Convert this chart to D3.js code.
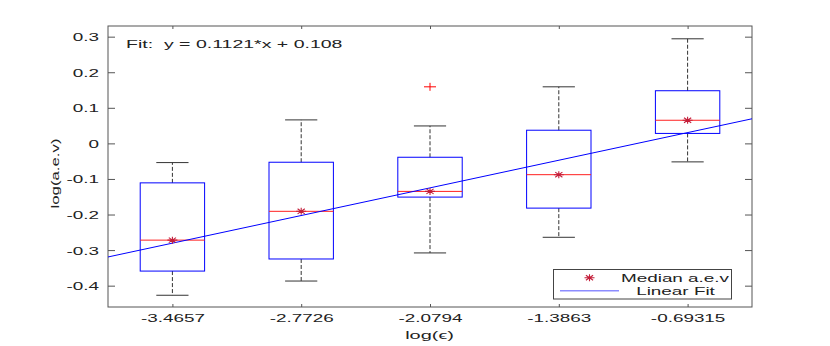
<!DOCTYPE html>
<html><head><meta charset="utf-8">
<script src="https://cdn.jsdelivr.net/npm/d3@7"></script>
<style>body{margin:0;background:#fff}svg{display:block}</style>
</head><body>
<script>
// ---- data ----
const positions = [-3.4657, -2.7726, -2.0794, -1.3863, -0.69315];
const xTickLabels = ["-3.4657", "-2.7726", "-2.0794", "-1.3863", "-0.69315"];
const whiskerHigh = [-0.054, 0.066, 0.049, 0.159, 0.294];
const q3 = [-0.111, -0.053, -0.039, 0.037, 0.148];
const medians = [-0.272, -0.191, -0.135, -0.088, 0.065];
const q1 = [-0.359, -0.325, -0.151, -0.182, 0.028];
const whiskerLow = [-0.427, -0.387, -0.308, -0.264, -0.052];
const outlierX = [-2.0794];
const outlierY = [0.159];
const yTicks = [-0.4, -0.3, -0.2, -0.1, 0, 0.1, 0.2, 0.3];
const fitSlope = 0.1121, fitIntercept = 0.108;
const xDomain = [-3.8123, -0.3466];
const yDomain = [-0.46, 0.33];

// ---- layout ----
const W = 830, H = 346;
const L = 108, T = 26, R = 752, B = 307;
const SX = 1.8, FS = 10.5, FONT = "'Liberation Sans', Arial, Helvetica, sans-serif";
const svg = d3.select("body").append("svg").attr("width", W).attr("height", H);
const x = d3.scaleLinear().domain(xDomain).range([L, R]);
const y = d3.scaleLinear().domain(yDomain).range([B, T]);
const step = positions[1] - positions[0];
const boxHalf = x(positions[0] + step * 0.25) - x(positions[0]);
const capHalf = boxHalf / 2;

function stretchText(sel) {
  sel.each(function () {
    const t = d3.select(this);
    const tx = +t.attr("x") || 0;
    t.attr("x", 0).attr("transform", `translate(${tx},0) scale(${SX},1)`);
  });
}
function label(g, px, py, s, anchor, sx) {
  return g.append("text").attr("transform", `translate(${px},${py}) scale(${sx || SX},1)`)
    .attr("text-anchor", anchor).attr("font-family", FONT).attr("font-size", FS)
    .attr("fill", "#222").attr("xml:space", "preserve").text(s);
}

// ---- axes ----
const axColor = "#555";
const gB = svg.append("g").attr("transform", `translate(0,${B})`)
  .call(d3.axisBottom(x).tickValues(positions).tickFormat((d, i) => xTickLabels[i]).tickSizeInner(-3).tickSizeOuter(0).tickPadding(8));
const gL = svg.append("g").attr("transform", `translate(${L},0)`)
  .call(d3.axisLeft(y).tickValues(yTicks).tickFormat(d => d === 0 ? "0" : d3.format(".1f")(d).replace("−", "-")).tickSizeInner(-7).tickSizeOuter(0).tickPadding(9));
const gT = svg.append("g").attr("transform", `translate(0,${T})`)
  .call(d3.axisTop(x).tickValues(positions).tickFormat("").tickSizeInner(-3).tickSizeOuter(0));
const gR = svg.append("g").attr("transform", `translate(${R},0)`)
  .call(d3.axisRight(y).tickValues(yTicks).tickFormat("").tickSizeInner(-7).tickSizeOuter(0));
[gB, gL, gT, gR].forEach(g => {
  g.select(".domain").remove();
  g.selectAll("line").attr("stroke", axColor);
  g.selectAll("text").attr("font-family", FONT).attr("font-size", FS).attr("fill", "#222");
});
gL.selectAll("text").attr("dy", "0.38em");
stretchText(gL.selectAll("text"));
stretchText(gB.selectAll("text"));
svg.append("rect").attr("x", L).attr("y", T).attr("width", R - L).attr("height", B - T)
  .attr("fill", "none").attr("stroke", axColor).attr("stroke-width", 1);

// ---- boxes ----
const gBox = svg.append("g");
positions.forEach((p, i) => {
  const cx = x(p);
  gBox.append("line").attr("x1", cx).attr("x2", cx).attr("y1", y(q3[i])).attr("y2", y(whiskerHigh[i]))
    .attr("stroke", "#333").attr("stroke-dasharray", "4,2");
  gBox.append("line").attr("x1", cx).attr("x2", cx).attr("y1", y(q1[i])).attr("y2", y(whiskerLow[i]))
    .attr("stroke", "#333").attr("stroke-dasharray", "4,2");
  [whiskerHigh[i], whiskerLow[i]].forEach(v => gBox.append("line")
    .attr("x1", cx - capHalf).attr("x2", cx + capHalf).attr("y1", y(v)).attr("y2", y(v)).attr("stroke", "#333"));
  gBox.append("rect").attr("x", cx - boxHalf).attr("y", y(q3[i])).attr("width", boxHalf * 2)
    .attr("height", y(q1[i]) - y(q3[i])).attr("fill", "none").attr("stroke", "#0000ff");
  gBox.append("line").attr("x1", cx - boxHalf).attr("x2", cx + boxHalf).attr("y1", y(medians[i])).attr("y2", y(medians[i]))
    .attr("stroke", "#ff2020");
});
outlierX.forEach((ox, i) => {
  const cx = x(ox), cy = y(outlierY[i]);
  gBox.append("path").attr("d", `M${cx - 6},${cy}H${cx + 6}M${cx},${cy - 4}V${cy + 4}`)
    .attr("stroke", "#ff0000").attr("fill", "none");
});

// ---- fit line ----
svg.append("line").attr("x1", x(xDomain[0])).attr("y1", y(fitSlope * xDomain[0] + fitIntercept))
  .attr("x2", x(xDomain[1])).attr("y2", y(fitSlope * xDomain[1] + fitIntercept))
  .attr("stroke", "#0000ff").attr("stroke-width", 1);

// ---- median stars ----
const starColor = "#c41e3a";
function star(g, cx, cy) {
  const a = 5, b = 3.5, c = 0.72;
  g.append("path").attr("d",
    `M${cx - a},${cy}H${cx + a}M${cx},${cy - b}V${cy + b}` +
    `M${cx - a * c},${cy - b * c}L${cx + a * c},${cy + b * c}M${cx - a * c},${cy + b * c}L${cx + a * c},${cy - b * c}`)
    .attr("stroke", starColor).attr("fill", "none").attr("stroke-width", 1.1);
}
positions.forEach((p, i) => star(svg, x(p), y(medians[i])));

// ---- fit text ----
label(svg, 126, 48, "Fit:  y = 0.1121*x + 0.108", "start", 1.86);

// ---- axis titles ----
label(svg, (L + R) / 2 - 0.5, 338.5, "log(\u03f5)", "middle", 1.9);
svg.append("text").attr("transform", `translate(58.5,173.5) rotate(-90) scale(1.6,1)`)
  .attr("text-anchor", "middle").attr("font-family", FONT).attr("font-size", FS).attr("fill", "#222")
  .text("log(a.e.v)");

// ---- legend ----
const lg = svg.append("g");
lg.append("rect").attr("x", 553.5).attr("y", 269.5).attr("width", 178).attr("height", 29.5)
  .attr("fill", "#fff").attr("stroke", "#444");
star(lg, 589.5, 277.8);
lg.append("line").attr("x1", 560).attr("x2", 619).attr("y1", 290.7).attr("y2", 290.7).attr("stroke", "#8c8cff").attr("stroke-width", 1.5);
label(lg, 675, 281.8, "Median a.e.v", "middle");
label(lg, 675.5, 294.5, "Linear Fit", "middle");
</script>
</body></html>
